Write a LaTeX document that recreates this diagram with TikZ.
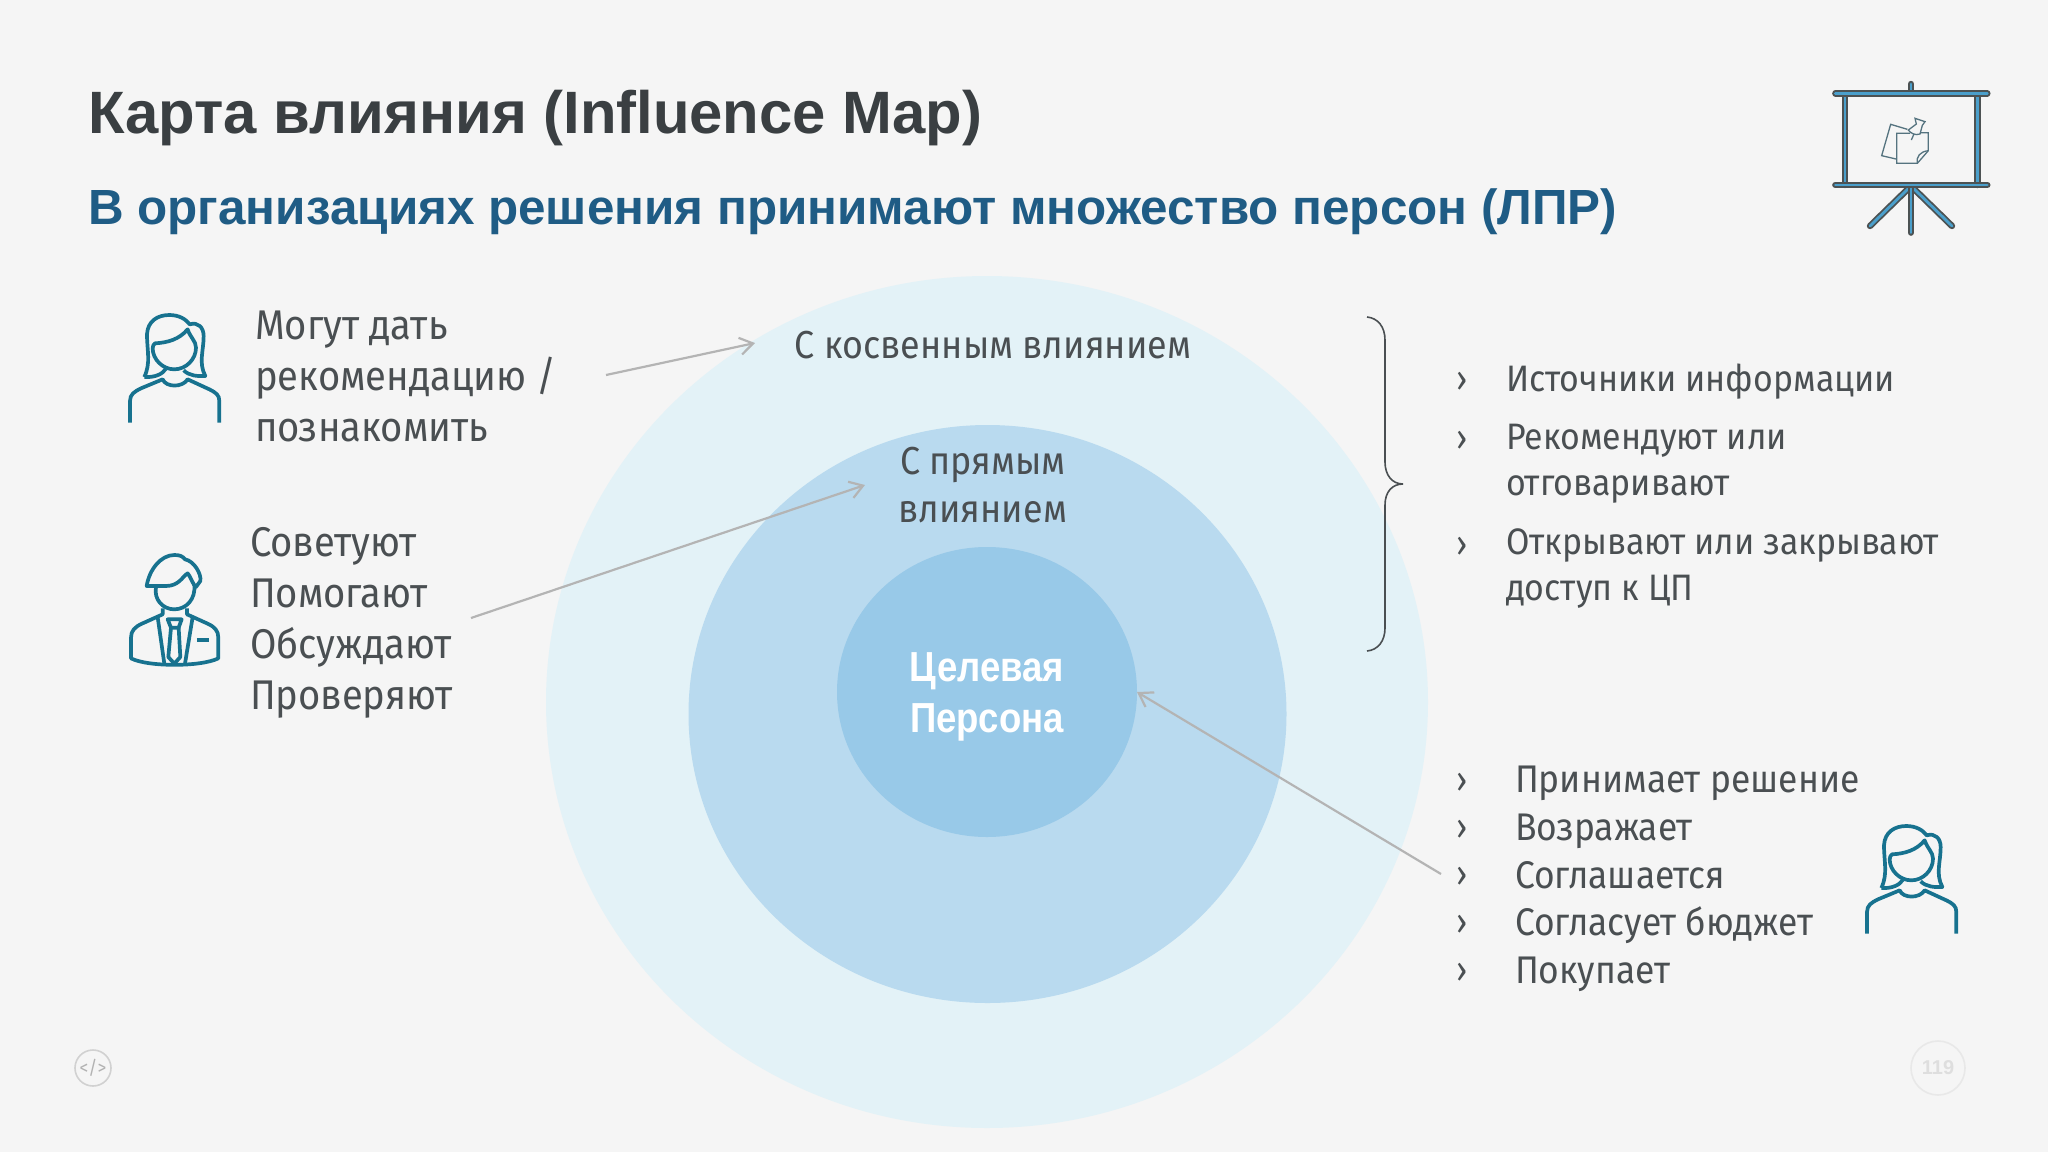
\documentclass[tikz,border=0pt]{standalone}
\usepackage{fontspec}
\setmainfont{Liberation Sans}
\newfontfamily\bodyfont[FakeStretch=0.92]{Fira Sans}
\newfontfamily\condfont[FakeStretch=0.87]{Liberation Sans}
\usetikzlibrary{arrows.meta,shapes.geometric}
\definecolor{bgc}{HTML}{F5F5F5}
\definecolor{outerc}{HTML}{E3F2F7}
\definecolor{midc}{HTML}{B9DAEF}
\definecolor{innerc}{HTML}{98C9E8}
\definecolor{titlec}{HTML}{3A3F42}
\definecolor{subc}{HTML}{1F5C85}
\definecolor{bodyc}{HTML}{4A4F52}
\definecolor{arrc}{HTML}{B4B4B4}
\definecolor{iconc}{HTML}{17728F}
\definecolor{easeld}{HTML}{4C5253}
\definecolor{easelb}{HTML}{4A9FCB}
\definecolor{notec}{HTML}{55737F}
\tikzset{
  txt/.style={inner sep=0pt,outer sep=0pt,text=bodyc,align=left,anchor=west,font=\bodyfont\fontsize{41.5}{51}\selectfont},
  listtxt/.style={txt,font=\bodyfont\fontsize{36.8}{46}\selectfont},
  bul/.style={inner sep=0pt,text=bodyc,font=\bodyfont\fontsize{36}{36}\selectfont},
  infl/.style={draw=arrc,line width=2.2pt,-{Straight Barb[length=13pt,width=17pt,line width=2.2pt]}},
  ic/.style={draw=iconc,line width=3.7,line cap=butt,line join=round},
  easel/.style={draw=easeld,line width=1.8,double=easelb,double distance=2.8,line cap=round},
  note/.style={draw=notec,line width=1.3,line join=miter},
  woman/.pic={
    \draw[ic] (100,258) .. controls (120,215) and (108,180) .. (108,130) .. controls (110,90) and (140,72) .. (175,72) .. controls (205,72) and (225,85) .. (236,100) .. controls (262,92) and (278,110) .. (278,135) .. controls (278,180) and (262,215) .. (283,255) .. controls (260,256) and (235,255) .. (218,238);
    \draw[ic] (100,258) .. controls (130,260) and (155,250) .. (165,233);
    \draw[ic] (132,157) .. controls (170,155) and (205,145) .. (230,115) .. controls (238,140) and (255,150) .. (255,170) .. controls (255,205) and (225,235) .. (190,235) .. controls (155,235) and (125,205) .. (125,172) .. controls (125,165) and (128,160) .. (132,157) -- cycle;
    \draw[ic] (57,395) -- (57,330) .. controls (57,310) and (70,302) .. (90,292) -- (155,265) .. controls (165,290) and (215,290) .. (230,265) -- (295,295) .. controls (315,305) and (325,312) .. (325,330) -- (325,395);
  },
  man/.pic={
    \draw[ic] (107,165) .. controls (115,115) and (150,72) .. (190,72) .. controls (205,72) and (215,75) .. (222,85) .. controls (250,90) and (272,130) .. (268,150) -- (255,168) .. controls (245,160) and (238,135) .. (230,127) .. controls (215,135) and (205,165) .. (165,165) -- cycle;
    \draw[ic] (135,168) .. controls (128,205) and (155,235) .. (190,235) .. controls (225,235) and (255,205) .. (250,160);
    \draw[ic] (155,232) -- (155,250) -- (95,277) .. controls (70,288) and (60,300) .. (60,320) -- (60,382) .. controls (110,408) and (270,408) .. (322,382) -- (322,320) .. controls (322,300) and (312,288) .. (290,278) -- (228,250) -- (228,232);
    \draw[ic] (140,258) -- (160,398);
    \draw[ic] (245,258) -- (222,398);
    \draw[ic] (170,265) -- (212,265) -- (203,290) -- (180,290) -- cycle;
    \draw[ic] (180,290) -- (172,378) -- (190,398) -- (208,378) -- (203,290);
    \draw[ic] (258,328) -- (295,328);
  },
}
\begin{document}
\begin{tikzpicture}[x=1pt,y=-1pt]
\useasboundingbox (0,0) rectangle (2048,1152);
\fill[bgc] (0,0) rectangle (2048,1152);
% circles
\node[ellipse,fill=outerc,minimum width=882pt,minimum height=852pt,inner sep=0pt] (outer) at (987,702) {};
\node[ellipse,fill=midc,minimum width=598pt,minimum height=578pt,inner sep=0pt] (middle) at (987.5,714) {};
\node[ellipse,fill=innerc,minimum width=300pt,minimum height=290pt,inner sep=0pt] (inner) at (987,692) {};
% titles
\node[inner sep=0,anchor=base west,text=titlec,font=\fontsize{59.8}{60}\selectfont\bfseries] (title) at (88,133) {Карта влияния (Influence Map)};
\node[inner sep=0,anchor=base west,text=subc,font=\fontsize{49.4}{50}\selectfont\bfseries] (subtitle) at (88,224) {В организациях решения принимают множество персон (ЛПР)};
% circle labels
\node[txt,anchor=center,font=\bodyfont\fontsize{39}{39}\selectfont] (ind) at (993,345) {С косвенным влиянием};
\node[txt,anchor=center,align=center,font=\bodyfont\fontsize{39}{48}\selectfont] (dir) at (983,485) {С прямым\\влиянием};
\node[inner sep=0,align=center,text=white,font=\condfont\bfseries\fontsize{42}{51}\selectfont] (tgt) at (987,697) {Целевая\\Персона};
% left text
\node[txt] (t1) at (255,376) {Могут дать\\рекомендацию /\\познакомить};
\node[txt] (t2) at (250,623) {Советуют\\Помогают\\Обсуждают\\Проверяют};
% right top list
\node[listtxt] (r1) at (1506,382) {Источники информации};
\node[listtxt] (r2) at (1506,464) {Рекомендуют или\\отговаривают};
\node[listtxt] (r3) at (1506,569) {Открывают или закрывают\\доступ к ЦП};
\foreach \n/\y in {a/382,b/441,c/547} \node[bul] (b\n) at (1462,\y) {›};
% right bottom list
\node[listtxt,font=\bodyfont\fontsize{38.5}{47.6}\selectfont] (r4) at (1515,879) {Принимает решение\\Возражает\\Соглашается\\Согласует бюджет\\Покупает};
\foreach \n/\y in {d/783,e/830,f/877,g/925,h/973} \node[bul] (b\n) at (1462,\y) {›};
% brace
\coordinate (brT) at (1367,317);
\coordinate (brB) at (1367,651);
\coordinate (brM) at (1403,484);
\draw[draw=bodyc,line width=1.6pt] (brT) .. controls (1378,318) and (1385,327) .. (1385,340) -- (1385,462) .. controls (1385,475) and (1392,484) .. (brM) .. controls (1392,484) and (1385,492) .. (1385,505) -- (1385,628) .. controls (1385,641) and (1378,650) .. (brB);
% arrows
\coordinate (a1s) at (606,375);
\coordinate (a2s) at (471,618);
\coordinate (a3s) at (1441,874);
\draw[infl] (a1s) -- (755,343);
\draw[infl] (a2s) -- (865,485);
\draw[infl] (a3s) -- (1137,692);
% icons
\begin{scope}[shift={(111,291)},x=0.3333pt,y=-0.3333pt]
\pic (w1) at (0,0) {woman};
\end{scope}
\begin{scope}[shift={(111,531)},x=0.3333pt,y=-0.3333pt]
\pic (m1) at (0,0) {man};
\end{scope}
\begin{scope}[shift={(1848,802)},x=0.3333pt,y=-0.3333pt]
\pic (w2) at (0,0) {woman};
\end{scope}
% easel
\begin{scope}[shift={(1800,60)},x=0.3333pt,y=-0.3333pt]
\draw[easel] (333,72) -- (333,100);
\draw[easel] (135,100) -- (135,375);
\draw[easel] (532,100) -- (532,375);
\draw[easel] (333,378) -- (210,498);
\draw[easel] (333,378) -- (456,498);
\draw[easel] (333,378) -- (333,518);
\draw[easel] (106,100) -- (562,100);
\draw[easel] (106,375) -- (562,375);
\draw[note] (322,208) -- (272,193) -- (245,287) -- (288,297);
\draw[note] (330,220) -- (290,220) -- (290,310) -- (352,310) -- (385,272) -- (385,218) -- (362,218);
\draw[note] (352,310) .. controls (348,290) and (360,275) .. (385,272);
\draw[note,fill=bgc] (345,175) -- (375,185) -- (367,196) -- (360,222) .. controls (345,228) and (330,218) .. (325,210) -- (349,192) -- cycle;
\draw[note] (342,222) -- (334,240);
\end{scope}
% footer
\node[circle,draw=black!18,line width=1.6pt,minimum size=36pt,inner sep=0pt,text=black!30,font=\bodyfont\fontsize{19}{19}\selectfont] (code) at (93,1068) {</>};
\node[circle,draw=black!9,line width=1.6pt,minimum size=54pt,inner sep=0pt,text=black!13,font=\fontsize{20}{20}\selectfont\bfseries] (page) at (1938,1068) {119};
\end{tikzpicture}
\end{document}
